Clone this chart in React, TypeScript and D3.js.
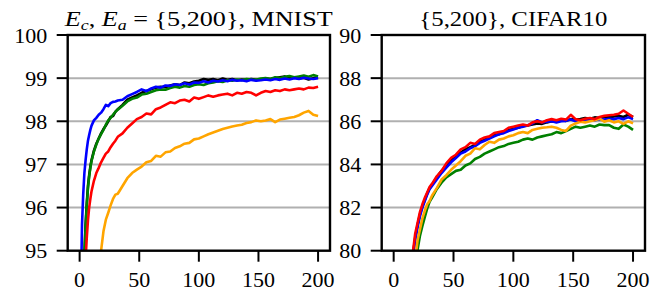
import React from "react";
import * as d3 from "d3";

const epochs = [0,1,2,3,4,5,6,7,8,9,10,12,14,16,18,20,22,24,26,28,30,32,36,40,44,48,52,56,60,64,68,72,76,80,84,88,92,96,100,104,108,112,116,120,124,128,132,136,140,144,148,152,156,160,164,168,172,176,180,184,188,192,196,200];

// MNIST panel
const mnistBlack = [85,89,92,94,94.9,95.6,96.1,96.5,96.75,96.95,97.1,97.32,97.48,97.6,97.72,97.82,97.9,98.0,98.1,98.12,98.22,98.28,98.38,98.5,98.55,98.6,98.66,98.7,98.74,98.78,98.8,98.79,98.83,98.86,98.84,98.9,98.88,98.92,98.94,98.98,98.96,98.98,98.95,98.99,98.96,98.98,98.95,98.97,98.96,98.98,98.96,98.97,98.99,98.98,99.0,99.02,99.04,99.0,99.02,98.99,99.01,98.97,99.0,99.02];
const mnistGreen = [85,89,92,94,94.9,95.55,96.05,96.45,96.72,96.92,97.08,97.3,97.46,97.6,97.7,97.8,97.92,98.02,98.08,98.15,98.22,98.27,98.36,98.46,98.52,98.55,98.62,98.64,98.68,98.72,98.74,98.73,98.77,98.8,98.78,98.82,98.8,98.84,98.86,98.84,98.88,98.9,98.93,98.91,98.95,98.94,98.97,98.95,98.98,98.97,98.96,98.99,99.0,98.98,99.02,99.0,99.03,99.05,99.02,99.04,99.06,99.03,99.07,99.04];
const mnistBlue = [88,94.0,95.6,96.3,96.8,97.1,97.35,97.55,97.68,97.8,97.9,98.02,98.08,98.15,98.2,98.28,98.38,98.35,98.42,98.45,98.46,98.48,98.5,98.58,98.63,98.68,98.74,98.7,98.76,98.8,98.78,98.83,98.82,98.86,98.84,98.88,98.85,98.9,98.89,98.93,98.9,98.94,98.92,98.95,98.93,98.96,98.94,98.95,98.93,98.96,98.94,98.95,98.97,98.95,98.98,98.96,98.99,98.97,99.0,98.98,99.01,98.99,98.98,99.0];
const mnistOrange = [85,86.5,87.8,88.8,89.7,90.5,91.2,91.8,92.3,92.8,93.2,93.9,94.4,94.75,95.0,95.45,95.72,95.88,96.05,96.2,96.3,96.32,96.5,96.68,96.8,96.88,96.95,97.05,97.08,97.2,97.18,97.28,97.3,97.38,97.42,97.48,97.5,97.58,97.6,97.65,97.7,97.74,97.78,97.82,97.85,97.88,97.9,97.92,97.96,97.98,98.02,98.0,98.02,98.05,97.98,98.04,98.06,98.08,98.1,98.14,98.2,98.24,98.15,98.12];
const mnistRed = [84,88,91,93,94.2,94.8,95.3,95.7,96.0,96.2,96.38,96.62,96.8,96.92,97.05,97.15,97.25,97.3,97.4,97.48,97.55,97.64,97.72,97.85,97.95,98.05,98.1,98.18,98.16,98.28,98.32,98.38,98.44,98.42,98.48,98.5,98.46,98.55,98.52,98.56,98.6,98.57,98.6,98.62,98.64,98.6,98.66,98.64,98.68,98.66,98.6,98.66,98.7,98.68,98.72,98.7,98.74,98.72,98.74,98.76,98.74,98.78,98.77,98.8];

// CIFAR10 panel
const cifarBlack = [45,55,60,63,66,68,70,71.5,73,74.2,75.3,77,78.4,79.8,80.6,81.2,81.7,82.05,82.35,82.65,82.9,83.05,83.4,83.7,83.95,84.2,84.35,84.55,84.7,84.8,84.9,85.05,85.15,85.25,85.35,85.4,85.5,85.6,85.65,85.7,85.78,85.8,85.85,85.9,85.88,85.95,86.0,85.98,86.05,86.02,86.1,86.08,86.1,86.15,86.12,86.18,86.15,86.2,86.18,86.22,86.25,86.2,86.3,86.2];
const cifarGreen = [40,50,56,60,63,65.5,67.5,69.2,70.8,72,73.2,75.0,76.6,77.9,79.1,80.05,80.7,81.15,81.55,81.95,82.27,82.45,82.85,83.15,83.4,83.55,83.7,83.75,83.95,84.05,84.25,84.35,84.5,84.6,84.7,84.8,84.85,84.95,85.0,85.05,85.15,85.2,85.15,85.25,85.3,85.35,85.4,85.5,85.45,85.55,85.65,85.75,85.7,85.75,85.8,85.75,85.85,85.82,85.82,85.7,85.65,85.85,85.75,85.6];
const cifarBlue = [45,55,60,63,66,68,70,71.5,73,74.2,75.3,77,78.4,79.7,80.5,81.1,81.6,82.0,82.3,82.6,82.85,83.0,83.3,83.6,83.85,84.1,84.3,84.5,84.6,84.75,84.85,85.0,85.1,85.2,85.3,85.4,85.45,85.55,85.62,85.7,85.75,85.82,85.9,86.05,85.95,85.98,86.0,85.95,86.0,86.02,86.08,86.0,86.05,86.02,86.08,86.05,86.1,86.08,86.12,86.1,86.15,86.1,86.18,86.1];
const cifarOrange = [40,50,56,60,63,65.5,67.5,69.2,70.8,72,73.2,75.2,76.8,78.2,79.6,80.5,81.0,81.5,81.85,82.15,82.3,82.55,82.9,83.3,83.5,83.75,83.95,84.15,84.4,84.5,84.75,84.7,84.9,85.05,85.0,85.15,85.2,85.3,85.35,85.45,85.5,85.45,85.6,85.65,85.7,85.72,85.75,85.7,85.6,85.55,85.8,85.9,85.98,85.95,86.0,86.05,86.12,85.98,86.05,85.95,86.0,85.88,86.0,85.9];
const cifarRed = [45,55,60,63,66,68,70,71.5,73,74.2,75.3,77,78.5,79.9,80.8,81.3,81.8,82.15,82.45,82.7,82.95,83.1,83.45,83.7,84.05,84.3,84.45,84.7,84.8,85.0,84.95,85.15,85.25,85.3,85.45,85.5,85.55,85.7,85.75,85.8,85.85,85.8,85.95,86.0,85.95,86.05,86.1,86.05,86.12,86.08,86.3,86.1,86.05,86.12,86.15,86.1,86.2,86.25,86.28,86.3,86.35,86.5,86.35,86.2];

const xTicks = [0, 50, 100, 150, 200];
const mnistYTicks = [95, 96, 97, 98, 99, 100];
const cifarYTicks = [80, 82, 84, 86, 88, 90];
const seriesColors = ["black", "green", "blue", "orange", "red"];

type PanelProps = {
  id: string;
  left: number;
  right: number;
  yDomain: [number, number];
  yTicks: number[];
  series: number[][];
  title: React.ReactNode;
  titleWidth: number;
};

const TOP = 35;
const BOTTOM = 250.7;
const FONT = "'Liberation Serif', 'DejaVu Serif', serif";

function Panel({ id, left, right, yDomain, yTicks, series, title, titleWidth }: PanelProps) {
  const x = d3.scaleLinear().domain([-10, 210]).range([left, right]);
  const y = d3.scaleLinear().domain(yDomain).range([BOTTOM, TOP]);
  const line = d3
    .line<number>()
    .x((_, i) => x(epochs[i]))
    .y((d) => y(d));
  const cx = (left + right) / 2;
  return (
    <g>
      <defs>
        <clipPath id={id}>
          <rect x={left} y={TOP} width={right - left} height={BOTTOM - TOP} />
        </clipPath>
      </defs>
      {yTicks
        .filter((t) => t !== yDomain[0] && t !== yDomain[1])
        .map((t) => (
          <line key={"g" + t} x1={left} x2={right} y1={y(t)} y2={y(t)} stroke="#b0b0b0" strokeWidth={2} />
        ))}
      <g clipPath={`url(#${id})`}>
        {series.map((s, i) => (
          <path key={i} d={line(s) || ""} fill="none" stroke={seriesColors[i]} strokeWidth={2.6} strokeLinejoin="round" />
        ))}
      </g>
      <rect x={left} y={TOP} width={right - left} height={BOTTOM - TOP} fill="none" stroke="black" strokeWidth={2.4} />
      {yTicks.map((t) => (
        <g key={"y" + t}>
          <line x1={left - 11} x2={left} y1={y(t)} y2={y(t)} stroke="black" strokeWidth={2} />
          <text x={left - 20.5} y={y(t) + 7.5} textAnchor="end" fontSize={22} fontFamily={FONT}>
            {t}
          </text>
        </g>
      ))}
      {xTicks.map((t) => (
        <g key={"x" + t}>
          <line x1={x(t)} x2={x(t)} y1={BOTTOM} y2={BOTTOM + 11} stroke="black" strokeWidth={2} />
          <text x={x(t)} y={287} textAnchor="middle" fontSize={22} fontFamily={FONT}>
            {t}
          </text>
        </g>
      ))}
      <text x={cx} y={26} textAnchor="middle" fontSize={22} fontFamily={FONT} textLength={titleWidth} lengthAdjust="spacingAndGlyphs">
        {title}
      </text>
    </g>
  );
}

export default function App() {
  const mnistTitle = (
    <>
      <tspan fontStyle="italic">E</tspan>
      <tspan fontStyle="italic" fontSize={15} dy={4}>c</tspan>
      <tspan dy={-4}>, </tspan>
      <tspan fontStyle="italic">E</tspan>
      <tspan fontStyle="italic" fontSize={15} dy={4}>a</tspan>
      <tspan dy={-4}>{" = {5,200}, MNIST"}</tspan>
    </>
  );
  return (
    <svg
      width={663}
      height={302}
      style={{ position: "absolute", left: 0, top: 0, background: "white" }}
    >
      <rect x={0} y={0} width={663} height={302} fill="white" />
      <Panel
        id="clipL"
        left={67.7}
        right={330}
        yDomain={[95, 100]}
        yTicks={mnistYTicks}
        series={[mnistBlack, mnistGreen, mnistBlue, mnistOrange, mnistRed]}
        title={mnistTitle}
        titleWidth={268}
      />
      <Panel
        id="clipR"
        left={381.7}
        right={645}
        yDomain={[80, 90]}
        yTicks={cifarYTicks}
        series={[cifarBlack, cifarGreen, cifarBlue, cifarOrange, cifarRed]}
        title={"{5,200}, CIFAR10"}
        titleWidth={188}
      />
    </svg>
  );
}
